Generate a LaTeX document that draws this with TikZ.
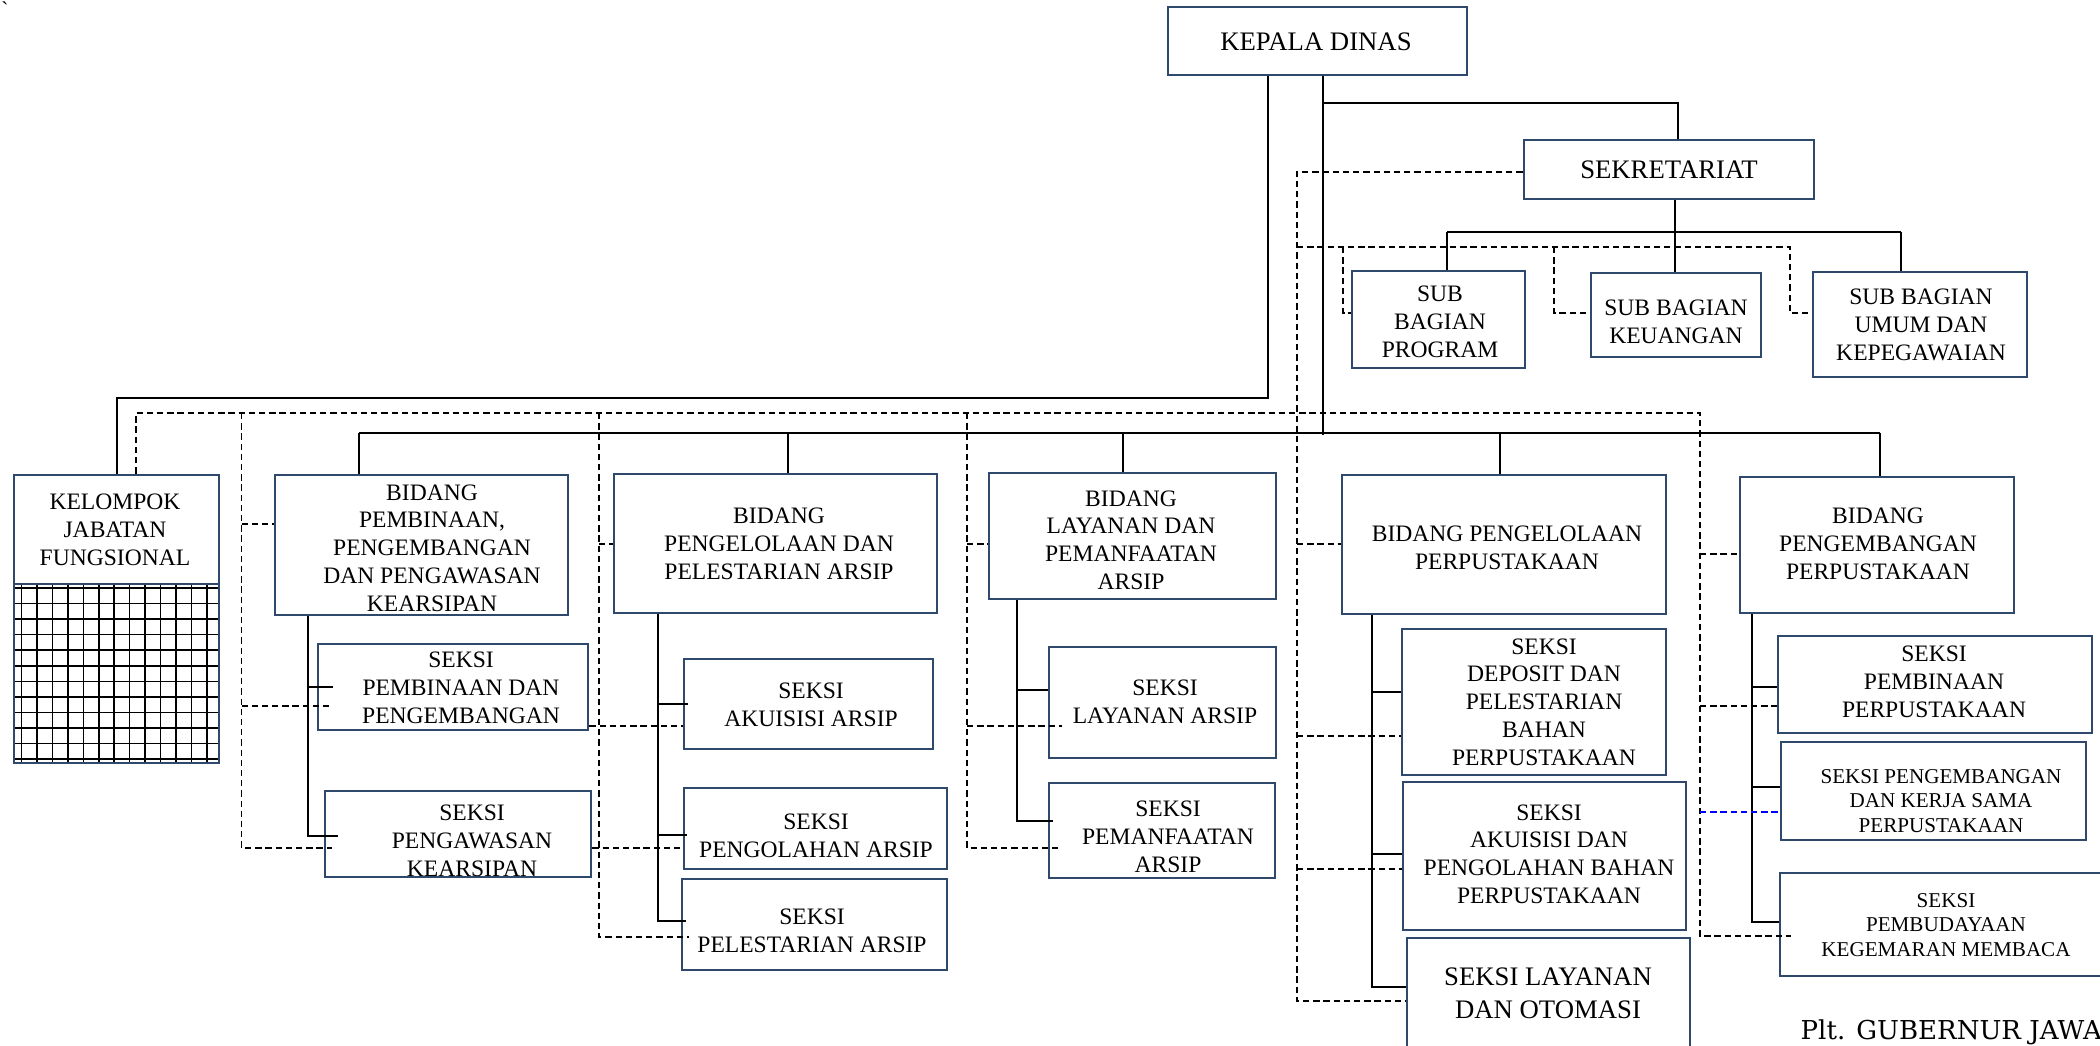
\documentclass[tikz,border=0pt]{standalone}
\usepackage{fontspec}
\setmainfont{Liberation Serif}
\newfontfamily\pltfont{DejaVu Serif}
\usetikzlibrary{fit}
\definecolor{boxcol}{RGB}{46,73,108}
\begin{document}
\begin{tikzpicture}[x=0.01cm,y=-0.01cm,
  box/.style={draw=boxcol,line width=0.8pt,inner sep=0pt},
  txt/.style={align=center,inner sep=0pt,font=\fontsize{6.7}{7.9}\selectfont},
  bigtxt/.style={align=center,inner sep=0pt,font=\fontsize{7.6}{9}\selectfont},
  smalltxt/.style={align=center,inner sep=0pt,font=\fontsize{6}{7}\selectfont},
  conn/.style={line width=0.55pt,black},
  dconn/.style={line width=0.5pt,black,dash pattern=on 1.8pt off 1.1pt},
  gridl/.style={line width=0.45pt,black},
]
\useasboundingbox (0,0) rectangle (2100,1046);

% grid of kelompok jabatan fungsional
\foreach \i in {0,...,12} \draw[gridl] ({21.7+15.42*\i},584) -- ++(0,179);
\foreach \i in {0,...,11} \draw[gridl] (14,{588+15.55*\i}) -- (219,{588+15.55*\i});

% boxes
\node[box, fit={(1168,7) (1467,75)}] (kd) {};
\node[box, fit={(1524,140) (1814,199)}] (sek) {};
\node[box, fit={(1352,271) (1525,368)}] (sbp) {};
\node[box, fit={(1591,273) (1761,357)}] (sbk) {};
\node[box, fit={(1813,272) (2027,377)}] (sbu) {};
\node[box, fit={(14,475) (219,763)}] (kjf) {};
\draw[draw=boxcol,line width=0.8pt] (kjf.west |- 0,584) -- (kjf.east |- 0,584);
\node[box, fit={(275,475) (568,615)}] (bpp) {};
\node[box, fit={(318,644) (588,730)}] (spp) {};
\node[box, fit={(325,791) (591,877)}] (spk) {};
\node[box, fit={(614,474) (937,613)}] (bpa) {};
\node[box, fit={(684,659) (933,749)}] (saa) {};
\node[box, fit={(684,788) (947,869)}] (spa) {};
\node[box, fit={(682,879) (947,970)}] (sla) {};
\node[box, fit={(989,473) (1276,599)}] (bla) {};
\node[box, fit={(1049,647) (1276,758)}] (slar) {};
\node[box, fit={(1049,783) (1275,878)}] (spma) {};
\node[box, fit={(1342,475) (1666,614)}] (bpper) {};
\node[box, fit={(1402,629) (1666,775)}] (sdep) {};
\node[box, fit={(1403,782) (1686,930)}] (sakp) {};
\node[box, fit={(1407,938) (1690,1052)}] (slo) {};
\node[box, fit={(1740,477) (2014,613)}] (bpeng) {};
\node[box, fit={(1778,636) (2092,733)}] (sppp) {};
\node[box, fit={(1781,742) (2086,840)}] (spks) {};
\node[box, fit={(1780,873) (2110,976)}] (spkm) {};

% texts
\node[bigtxt] (kd-t) at (1316,42) {KEPALA DINAS};
\node[bigtxt] (sek-t) at (1669,170) {SEKRETARIAT};
\node[txt] (sbp-t) at (1440,322) {SUB\\BAGIAN\\PROGRAM};
\node[txt] (sbk-t) at (1676,322) {SUB BAGIAN\\KEUANGAN};
\node[txt] (sbu-t) at (1921,325) {SUB BAGIAN\\UMUM DAN\\KEPEGAWAIAN};
\node[txt] (kjf-t) at (115,530) {KELOMPOK\\JABATAN\\FUNGSIONAL};
\node[txt] (bpp-t) at (432,548) {BIDANG\\PEMBINAAN,\\PENGEMBANGAN\\DAN PENGAWASAN\\KEARSIPAN};
\node[txt] (spp-t) at (461,688) {SEKSI\\PEMBINAAN DAN\\PENGEMBANGAN};
\node[txt] (spk-t) at (472,841) {SEKSI\\PENGAWASAN\\KEARSIPAN};
\node[txt] (bpa-t) at (779,544) {BIDANG\\PENGELOLAAN DAN\\PELESTARIAN ARSIP};
\node[txt] (saa-t) at (811,705) {SEKSI\\AKUISISI ARSIP};
\node[txt] (spa-t) at (816,836) {SEKSI\\PENGOLAHAN ARSIP};
\node[txt] (sla-t) at (812,931) {SEKSI\\PELESTARIAN ARSIP};
\node[txt] (bla-t) at (1131,540) {BIDANG\\LAYANAN DAN\\PEMANFAATAN\\ARSIP};
\node[txt] (slar-t) at (1165,702) {SEKSI\\LAYANAN ARSIP};
\node[txt] (spma-t) at (1168,837) {SEKSI\\PEMANFAATAN\\ARSIP};
\node[txt] (bpper-t) at (1507,548) {BIDANG PENGELOLAAN\\PERPUSTAKAAN};
\node[txt] (sdep-t) at (1544,702) {SEKSI\\DEPOSIT DAN\\PELESTARIAN\\BAHAN\\PERPUSTAKAAN};
\node[txt] (sakp-t) at (1549,854) {SEKSI\\AKUISISI DAN\\PENGOLAHAN BAHAN\\PERPUSTAKAAN};
\node[align=center,inner sep=0pt,font=\fontsize{7.6}{9.4}\selectfont] (slo-t) at (1548,993) {SEKSI LAYANAN\\DAN OTOMASI};
\node[txt] (bpeng-t) at (1878,544) {BIDANG\\PENGEMBANGAN\\PERPUSTAKAAN};
\node[txt] (sppp-t) at (1934,682) {SEKSI\\PEMBINAAN\\PERPUSTAKAAN};
\node[smalltxt] (spks-t) at (1941,801) {SEKSI PENGEMBANGAN\\DAN KERJA SAMA\\PERPUSTAKAAN};
\node[smalltxt] (spkm-t) at (1946,925) {SEKSI\\PEMBUDAYAAN\\KEGEMARAN MEMBACA};
\node[anchor=base west,inner sep=0pt,font=\pltfont\fontsize{7.4}{9}\selectfont] (plt) at (1800,1039) {Plt. GUBERNUR JAWA};
\node[inner sep=0pt,font=\fontsize{6}{7}\selectfont] (grave) at (5,9) {\textasciigrave};

% solid connectors
\draw[conn] (kd.south -| 1268,0) -- (1268,398) -| (kjf.north -| 117,0);
\draw[conn] (kd.south -| 1323,0) -- (1323,435);
\draw[conn] (1323,103) -| (sek.north -| 1678,0);
\draw[conn] (359,433) -- (1880,433);
\foreach \n/\x in {bpp/359, bpa/788, bla/1123, bpper/1500, bpeng/1880}
  \draw[conn] (\x,433) -- (\n.north -| \x,0);
\draw[conn] (sek.south -| 1675,0) -- (1675,232);
\draw[conn] (1447,232) -- (1901,232);
\draw[conn] (1447,232) -- (sbp.north -| 1447,0);
\draw[conn] (1675,232) -- (sbk.north -| 1675,0);
\draw[conn] (1901,232) -- (sbu.north -| 1901,0);

\draw[conn] (bpp.south -| 308,0) -- (308,836) -- (338,836);
\draw[conn] (308,687) -- (333,687);
\draw[conn] (bpa.south -| 658,0) -- (658,921) -- (686,921);
\draw[conn] (658,704) -- (688,704);
\draw[conn] (658,835) -- (687,835);
\draw[conn] (bla.south -| 1017,0) -- (1017,821) -- (1053,821);
\draw[conn] (1017,690) -- (slar.west |- 0,690);
\draw[conn] (bpper.south -| 1372,0) -- (1372,987) -- (slo.west |- 0,987);
\draw[conn] (1372,692) -- (sdep.west |- 0,692);
\draw[conn] (1372,854) -- (sakp.west |- 0,854);
\draw[conn] (bpeng.south -| 1752,0) -- (1752,922) -- (spkm.west |- 0,922);
\draw[conn] (1752,687) -- (sppp.west |- 0,687);
\draw[conn] (1752,787) -- (spks.west |- 0,787);

% dashed connectors
\draw[dconn] (sek.west |- 0,172) -- (1297,172) -- (1297,1001) -- (slo.west |- 0,1001);
\draw[dconn] (1297,544) -- (bpper.west |- 0,544);
\draw[dconn] (1297,736) -- (sdep.west |- 0,736);
\draw[dconn] (1297,869) -- (sakp.west |- 0,869);
\draw[dconn] (1297,247) -- (1790,247) -- (1790,313) -- (sbu.west |- 0,313);
\draw[dconn] (1343,247) -- (1343,313) -- (sbp.west |- 0,313);
\draw[dconn] (1554,247) -- (1554,313) -- (sbk.west |- 0,313);
\draw[dconn] (kjf.north -| 136,0) -- (136,413) -- (1700,413) -- (1700,936) -- (1791,936);
\draw[dconn] (241.5,413) -- (241.5,848) -- (332,848);
\draw[dconn] (241.5,524) -- (bpp.west |- 0,524);
\draw[dconn] (241.5,706) -- (329,706);
\draw[dconn] (599,413) -- (599,937) -- (689,937);
\draw[dconn] (599,544) -- (bpa.west |- 0,544);
\draw[dconn] (spp.east |- 0,726) -- (saa.west |- 0,726);
\draw[dconn] (spk.east |- 0,848) -- (spa.west |- 0,848);
\draw[dconn] (967,413) -- (967,848) -- (1062,848);
\draw[dconn] (967,544) -- (bla.west |- 0,544);
\draw[dconn] (967,726) -- (1062,726);
\draw[dconn] (1700,554) -- (bpeng.west |- 0,554);
\draw[dconn] (1700,706) -- (sppp.west |- 0,706);
\draw[dconn,blue] (1700,812) -- (spks.west |- 0,812);
\end{tikzpicture}
\end{document}
